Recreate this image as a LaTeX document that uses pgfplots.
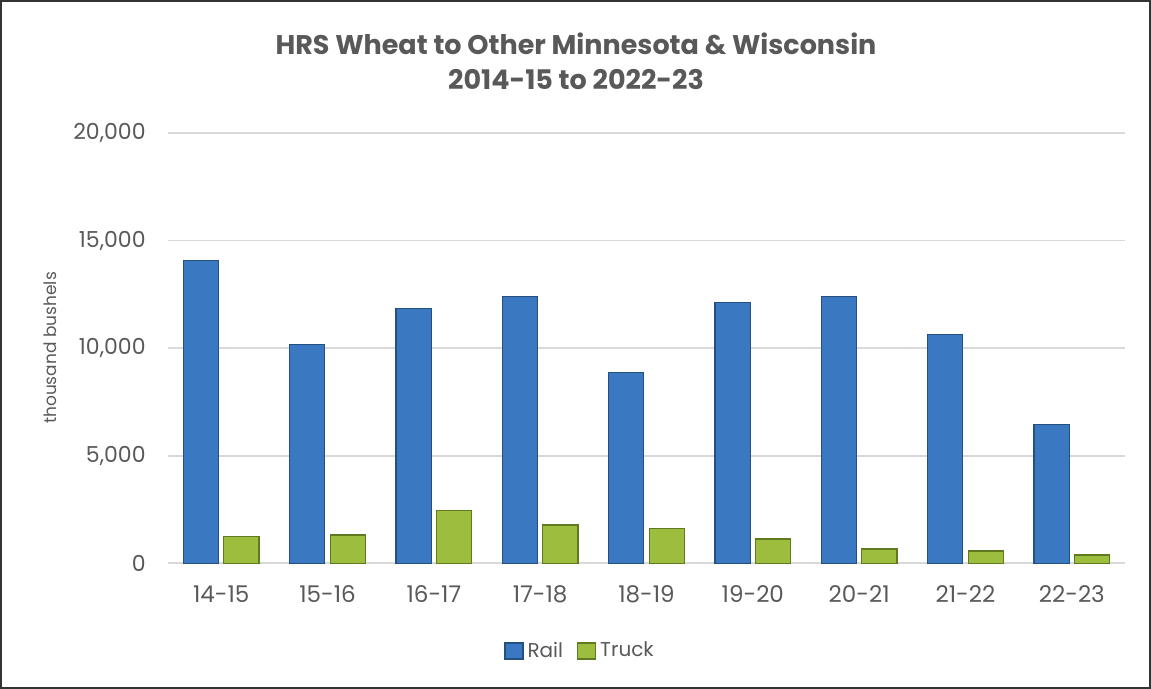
\documentclass[border=0pt]{standalone}
\usepackage{pgfplots}
\pgfplotsset{compat=1.18}
\usepackage{fontspec}
\setmainfont{Poppins}
\definecolor{txt}{HTML}{595959}
\definecolor{gridc}{HTML}{D9D9D9}
\definecolor{bluemid}{HTML}{3A78C2}
\definecolor{blueedge}{HTML}{24507F}
\definecolor{greenmid}{HTML}{9CBD3E}
\definecolor{greenedge}{HTML}{5F7A1F}
\begin{document}
\begin{tikzpicture}
\useasboundingbox (0pt,0pt) rectangle (575.5pt,344.5pt);
\draw[line width=1.2pt,color=black!80] (0.6pt,0.6pt) rectangle (574.9pt,343.9pt);
\node[font=\bfseries\fontsize{13.5pt}{15pt}\selectfont,text=txt] at (288pt,322.5pt) {HRS Wheat to Other Minnesota \& Wisconsin};
\node[font=\bfseries\fontsize{13.5pt}{15pt}\selectfont,text=txt] at (288pt,304.5pt) {2014-15 to 2022-23};
\node[rotate=90,font=\fontsize{8.5pt}{10pt}\selectfont,text=txt] at (25pt,170.5pt) {thousand bushels};
\begin{axis}[
  at={(84pt,62.85pt)}, anchor=south west,
  scale only axis, width=478.5pt, height=215.15pt,
  xmin=-0.5, xmax=8.5, ymin=0, ymax=20000,
  xtick={0,...,8},
  xticklabels={14-15,15-16,16-17,17-18,18-19,19-20,20-21,21-22,22-23},
  ytick={0,5000,10000,15000,20000},
  scaled y ticks=false,
  /pgf/number format/assume math mode=true,
  /pgf/number format/fixed,
  /pgf/number format/1000 sep={,},
  tick label style={font=\fontsize{11pt}{12pt}\selectfont, text=txt},
  yticklabel style={inner sep=0pt, xshift=-11pt},
  xticklabel style={inner sep=0pt, yshift=-11pt, font=\fontsize{11.5pt}{12pt}\selectfont},
  major tick length=0pt,
  axis lines*=left,
  y axis line style={draw=none},
  x axis line style={draw=gridc, line width=1pt, -},
  ymajorgrids, xmajorgrids=false, grid style={draw=gridc, line width=0.8pt},
  ybar, bar width=0.33,
  legend columns=2,
  legend style={draw=none, at={(0.4316,-0.204)}, anchor=center, font=\fontsize{10pt}{12pt}\selectfont, text=txt,
    /tikz/every even column/.append style={column sep=5pt},
    /tikz/every odd column/.append style={column sep=0pt}},
  legend image code/.code={\draw[#1] (0pt,-4pt) rectangle (9pt,4pt);},
]
\addplot[bar shift=-0.19, draw=blueedge, fill=bluemid, line width=0.6pt] coordinates {
(0,14080) (1,10180) (2,11850) (3,12410) (4,8880) (5,12130) (6,12410) (7,10645) (8,6435)};
\addplot[bar shift=0.19, draw=greenedge, fill=greenmid, line width=0.6pt] coordinates {
(0,1235) (1,1315) (2,2440) (3,1780) (4,1605) (5,1130) (6,665) (7,570) (8,385)};
\legend{Rail,Truck}
\end{axis}
\end{tikzpicture}
\end{document}
